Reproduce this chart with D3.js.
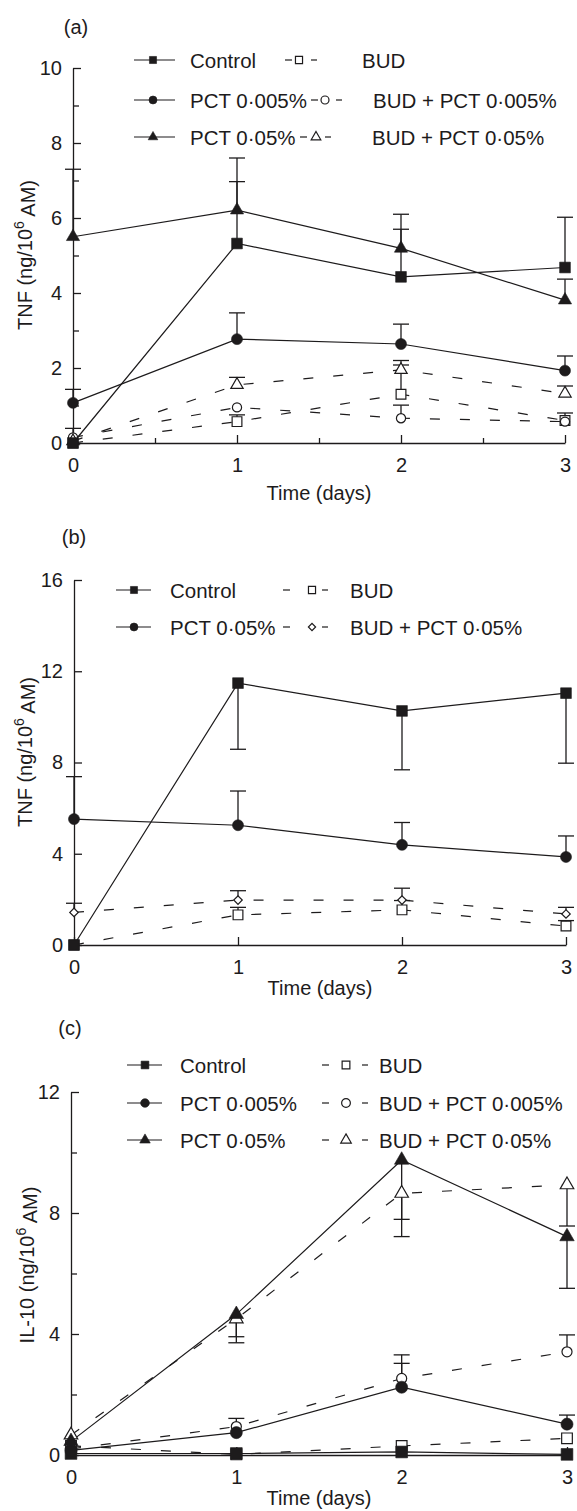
<!DOCTYPE html>
<html>
<head>
<meta charset="utf-8">
<script src="https://cdn.jsdelivr.net/npm/d3@7"></script>
<style>
body{margin:0;background:#fff;}
svg{display:block;font-family:"Liberation Sans",Arial,sans-serif;}
</style>
</head>
<body>
<div id="chart"></div>
<script>
const days = [0, 1, 2, 3];

// (a) TNF, values and error-bar tips (ng/10^6 AM)
const aControl = [0, 5.32, 4.43, 4.68];
const aControlErr = [null, 6.97, 5.7, 6.02];
const aPct005 = [1.07, 2.77, 2.64, 1.93];
const aPct005Err = [1.43, 3.47, 3.17, 2.32];
const aPct05 = [5.5, 6.21, 5.19, 3.81];
const aPct05Err = [7.3, 7.6, 6.1, 4.37];
const aBud = [0, 0.57, 1.3, 0.6];
const aBudErr = [null, 0.75, 2.08, 0.8];
const aBudPct005 = [0.15, 0.95, 0.66, 0.57];
const aBudPct005Err = [0.39, null, 1.01, null];
const aBudPct05 = [0.05, 1.55, 1.95, 1.32];
const aBudPct05Err = [null, 1.75, 2.2, 1.52];

// (b) TNF
const bControl = [0, 11.48, 10.26, 11.04];
const bControlErr = [null, 8.58, 7.68, 7.97];
const bPct05 = [5.52, 5.25, 4.39, 3.86];
const bPct05Err = [7.38, 6.75, 5.37, 4.78];
const bBud = [0, 1.32, 1.54, 0.83];
const bBudErr = [null, 1.65, 1.95, 1.07];
const bBudPct05 = [1.43, 1.97, 1.97, 1.36];
const bBudPct05Err = [1.83, 2.38, 2.49, 1.65];

// (c) IL-10
const cControl = [0.05, 0.05, 0.1, 0.02];
const cControlErr = [null, null, null, null];
const cPct005 = [0.15, 0.74, 2.24, 1.02];
const cPct005Err = [null, null, 3.03, 1.32];
const cPct05 = [0.45, 4.65, 9.75, 7.22];
const cPct05Err = [null, 3.71, 7.22, 5.51];
const cBud = [0.3, 0.02, 0.3, 0.55];
const cBudErr = [null, null, null, null];
const cBudPct005 = [0.2, 0.94, 2.53, 3.41];
const cBudPct005Err = [null, 1.21, 3.31, 3.97];
const cBudPct05 = [0.66, 4.5, 8.65, 8.93];
const cBudPct05Err = [null, 3.91, 7.79, 7.57];

const aTicks = [0, 2, 4, 6, 8, 10];
const aMinor = [1, 3, 5, 7, 9];
const bTicks = [0, 4, 8, 12, 16];
const cTicks = [0, 4, 8, 12];
const cMinor = [2, 6, 10];

const ink = "#1d1b1c";
const W = 577, H = 1511;

const svg = d3.select("#chart").append("svg")
    .attr("width", W)
    .attr("height", H);

const shapes = {
    square: d3.symbolSquare,
    circle: d3.symbolCircle,
    triangle: d3.symbolTriangle,
    diamond: d3.symbolSquare
};
const markSize = {square: 115, circle: 95, triangle: 75, diamond: 36};
const openSize = {square: 95, circle: 66, triangle: 66, diamond: 36};
const legSize = {square: 50, circle: 50, triangle: 40, diamond: 26};

function ser(name, vals, errs, shape, open){
    return {name: name, vals: vals, errs: errs, shape: shape, open: open};
}

function pick(v, i){ return Array.isArray(v) ? v[i] : v; }

const panels = [
    {
        tag: "(a)", tagPos: [76, 27], ylab: "TNF", ymax: 10, scale: 1,
        xr: [73, 565], yr: [443, 68], ticks: aTicks, minor: aMinor, xMinor: [0.5, 1.5, 2.5],
        ylabPos: [25, 255], timeY: 493,
        legRows: [60, 100, 137],
        legCol1: {x0: 134, x1: 175, m: 153, t: 190},
        legCol2: {x0: [285, 311, 300], x1: [317, 342, 331], m: [299, 325, 316], t: [362, 373, 372]},
        left: [ser("Control", aControl, aControlErr, "square", false),
               ser("PCT 0·005%", aPct005, aPct005Err, "circle", false),
               ser("PCT 0·05%", aPct05, aPct05Err, "triangle", false)],
        right: [ser("BUD", aBud, aBudErr, "square", true),
                ser("BUD + PCT 0·005%", aBudPct005, aBudPct005Err, "circle", true),
                ser("BUD + PCT 0·05%", aBudPct05, aBudPct05Err, "triangle", true)]
    },
    {
        tag: "(b)", tagPos: [74, 537], ylab: "TNF", ymax: 16, scale: 1,
        xr: [74, 566], yr: [945, 580], ticks: bTicks, minor: [], xMinor: [],
        ylabPos: [25, 752], timeY: 988,
        legRows: [590, 627],
        legCol1: {x0: 116, x1: 151, m: 134, t: 170},
        legCol2: {x0: 283, x1: 328, m: 312, t: 350},
        left: [ser("Control", bControl, bControlErr, "square", false),
               ser("PCT 0·05%", bPct05, bPct05Err, "circle", false)],
        right: [ser("BUD", bBud, bBudErr, "square", true),
                ser("BUD + PCT 0·05%", bBudPct05, bBudPct05Err, "diamond", true)]
    },
    {
        tag: "(c)", tagPos: [70, 1028], ylab: "IL-10", ymax: 12, scale: 1.2,
        xr: [71, 567], yr: [1455, 1092], ticks: cTicks, minor: cMinor, xMinor: [],
        ylabPos: [27, 1265], timeY: 1498,
        legRows: [1065, 1103, 1140],
        legCol1: {x0: 127, x1: 162, m: 145, t: 180},
        legCol2: {x0: 322, x1: 368, m: 346, t: 379},
        left: [ser("Control", cControl, cControlErr, "square", false),
               ser("PCT 0·005%", cPct005, cPct005Err, "circle", false),
               ser("PCT 0·05%", cPct05, cPct05Err, "triangle", false)],
        right: [ser("BUD", cBud, cBudErr, "square", true),
                ser("BUD + PCT 0·005%", cBudPct005, cBudPct005Err, "circle", true),
                ser("BUD + PCT 0·05%", cBudPct05, cBudPct05Err, "triangle", true)]
    }
];

function marker(sel, s, size, k){
    sel.attr("d", d3.symbol().type(shapes[s.shape]).size(size[s.shape] * k)())
        .attr("fill", s.open ? "#fff" : ink)
        .attr("stroke", ink)
        .attr("stroke-width", s.open ? 1.2 : 0.6);
}

function drawPanel(p){

    const x = d3.scaleLinear().domain([0, 3]).range(p.xr);
    const y = d3.scaleLinear().domain([0, p.ymax]).range(p.yr);
    const g = svg.append("g");

    // axes
    g.append("g")
        .attr("transform", `translate(0,${p.yr[0]})`)
        .call(d3.axisBottom(x).tickValues(days).tickFormat(d3.format("d"))
            .tickSize(-8).tickSizeOuter(0).tickPadding(15));
    g.append("g")
        .attr("transform", `translate(${p.xr[0]},0)`)
        .call(d3.axisLeft(y).tickValues(p.ticks).tickFormat(d3.format("d"))
            .tickSize(-8).tickSizeOuter(0).tickPadding(11));
    g.append("g")
        .attr("transform", `translate(0,${p.yr[0]})`)
        .call(d3.axisBottom(x).tickValues(p.xMinor).tickFormat("").tickSize(-5).tickSizeOuter(0))
        .select(".domain").remove();
    g.append("g")
        .attr("transform", `translate(${p.xr[0]},0)`)
        .call(d3.axisLeft(y).tickValues(p.minor).tickFormat("").tickSize(-6).tickSizeOuter(0))
        .select(".domain").remove();

    g.selectAll(".domain, .tick line").attr("stroke", ink).attr("stroke-width", 1.3);
    g.selectAll(".tick text").attr("fill", ink).style("font-size", "20px")
        .style("font-family", "'Liberation Sans',Arial,sans-serif");

    // panel tag, axis titles
    g.append("text").attr("x", p.tagPos[0]).attr("y", p.tagPos[1])
        .attr("text-anchor", "middle").attr("dominant-baseline", "central")
        .attr("fill", ink).style("font-size", "20px").text(p.tag);

    g.append("text").attr("x", (p.xr[0] + p.xr[1]) / 2).attr("y", p.timeY)
        .attr("text-anchor", "middle").attr("dominant-baseline", "central")
        .attr("fill", ink).style("font-size", "20px").text("Time (days)");

    const yl = g.append("text")
        .attr("transform", `translate(${p.ylabPos[0]},${p.ylabPos[1]}) rotate(-90)`)
        .attr("text-anchor", "middle").attr("dominant-baseline", "central")
        .attr("fill", ink).style("font-size", "20px");
    yl.append("tspan").text(p.ylab + " (ng/10");
    yl.append("tspan").attr("dy", "-0.45em").style("font-size", "14px").text("6");
    yl.append("tspan").attr("dy", "0.45em").text(" AM)");

    const all = p.right.concat(p.left);
    const line = d3.line().x((d, i) => x(days[i])).y(d => y(d));

    // lines
    all.forEach(s => {
        g.append("path")
            .attr("d", line(s.vals))
            .attr("fill", "none")
            .attr("stroke", ink)
            .attr("stroke-width", 1.2)
            .attr("stroke-dasharray", s.open ? "10,20" : null);
    });

    // error bars
    all.forEach(s => {
        s.errs.forEach((e, i) => {
            if(e === null) return;
            const cx = x(days[i]);
            g.append("line").attr("x1", cx).attr("x2", cx)
                .attr("y1", y(s.vals[i])).attr("y2", y(e))
                .attr("stroke", ink).attr("stroke-width", 1.3);
            g.append("line").attr("x1", cx - 8).attr("x2", cx + 8)
                .attr("y1", y(e)).attr("y2", y(e))
                .attr("stroke", ink).attr("stroke-width", 1.3);
        });
    });

    // markers
    all.forEach(s => {
        g.selectAll(null).data(s.vals).enter().append("path")
            .attr("transform", (d, i) => `translate(${x(days[i])},${y(d)})` + (s.shape === "diamond" ? " rotate(45)" : ""))
            .call(marker, s, s.open ? openSize : markSize, p.scale);
    });

    // legend
    function legend(list, c){
        list.forEach((s, i) => {
            const ly = p.legRows[i];
            const x0 = pick(c.x0, i), x1 = pick(c.x1, i);
            if(s.open){
                g.append("line").attr("x1", x0).attr("x2", x0 + 7).attr("y1", ly).attr("y2", ly)
                    .attr("stroke", ink).attr("stroke-width", 1.2);
                g.append("line").attr("x1", x1 - 6).attr("x2", x1).attr("y1", ly).attr("y2", ly)
                    .attr("stroke", ink).attr("stroke-width", 1.2);
            }else{
                g.append("line").attr("x1", x0).attr("x2", x1).attr("y1", ly).attr("y2", ly)
                    .attr("stroke", ink).attr("stroke-width", 1.2);
            }
            g.append("path")
                .attr("transform", `translate(${pick(c.m, i)},${ly})` + (s.shape === "diamond" ? " rotate(45)" : ""))
                .call(marker, s, legSize, p.scale);
            g.append("text").attr("x", pick(c.t, i)).attr("y", ly)
                .attr("dominant-baseline", "central")
                .attr("fill", ink).style("font-size", "20.5px").text(s.name);
        });
    }
    legend(p.left, p.legCol1);
    legend(p.right, p.legCol2);
}

panels.forEach(drawPanel);
</script>
</body>
</html>
